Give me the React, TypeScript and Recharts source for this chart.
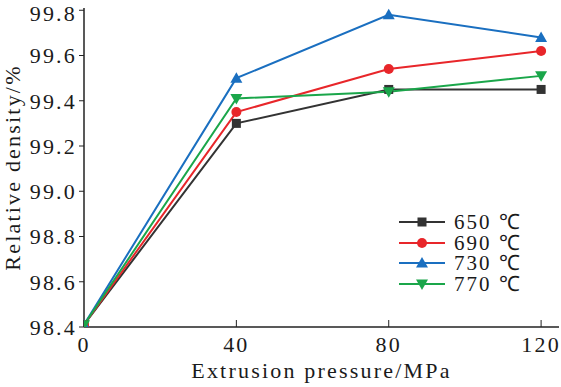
import { LineChart, Line, XAxis, YAxis, Legend } from 'recharts';

const pressures = [0, 40, 80, 120];
const d650 = [98.41, 99.3, 99.45, 99.45];
const d690 = [98.41, 99.35, 99.54, 99.62];
const d730 = [98.41, 99.5, 99.78, 99.68];
const d770 = [98.41, 99.41, 99.44, 99.51];
const xTicks = [0, 40, 80, 120];
const yTicks = [98.4, 98.6, 98.8, 99.0, 99.2, 99.4, 99.6, 99.8];

const SERIES = [
  { key: 't650', name: '650 ℃', values: d650, color: '#333333', shape: 'square' },
  { key: 't690', name: '690 ℃', values: d690, color: '#e8262a', shape: 'circle' },
  { key: 't730', name: '730 ℃', values: d730, color: '#1a6fc0', shape: 'triangle' },
  { key: 't770', name: '770 ℃', values: d770, color: '#1aa64a', shape: 'down' },
];

const data = pressures.map((p, i) => {
  const row: Record<string, number> = { p };
  for (const s of SERIES) row[s.key] = s.values[i];
  return row;
});

const FONT = 'Liberation Serif';
const INK = '#1a1a1a';

function Marker({ cx, cy, fill, shape }: any) {
  if (cx == null || cy == null) return null;
  if (shape === 'square') return <rect x={cx - 4.5} y={cy - 4.5} width={9} height={9} fill={fill} />;
  if (shape === 'circle') return <circle cx={cx} cy={cy} r={5} fill={fill} />;
  if (shape === 'triangle')
    return <polygon points={`${cx},${cy - 6} ${cx - 6},${cy + 4.5} ${cx + 6},${cy + 4.5}`} fill={fill} />;
  return <polygon points={`${cx},${cy + 6} ${cx - 6},${cy - 4.5} ${cx + 6},${cy - 4.5}`} fill={fill} />;
}

function LegendContent() {
  return (
    <div style={{ fontFamily: FONT, fontSize: 21, color: INK, lineHeight: '20px' }}>
      {SERIES.map(s => (
        <div key={s.key} style={{ display: 'flex', alignItems: 'center', height: 20.5 }}>
          <svg width={48} height={20}>
            <line x1={1} y1={10} x2={47} y2={10} stroke={s.color} strokeWidth={2} />
            <Marker cx={24} cy={10} fill={s.color} shape={s.shape} />
          </svg>
          <span style={{ display: 'inline-block', height: 20, lineHeight: '20px', marginLeft: 8, letterSpacing: 2, whiteSpace: 'nowrap' }}>
            {s.name}
          </span>
        </div>
      ))}
    </div>
  );
}

export default function App() {
  const tickStyle = { fontFamily: FONT, fontSize: 22, fill: INK, letterSpacing: 2.2 };
  return (
    <div style={{ position: 'absolute', left: 0, top: 0, width: 561, height: 387, background: '#fff' }}>
      <LineChart width={561} height={387} data={data} margin={{ top: 8, right: 2, bottom: 8, left: 8 }}>
        <XAxis
          dataKey="p"
          type="number"
          domain={[0, 124.7]}
          ticks={xTicks}
          allowDataOverflow
          tick={tickStyle}
          tickSize={-7}
          tickMargin={16}
          height={52}
          axisLine={{ stroke: '#222', strokeWidth: 1.5 }}
          tickLine={{ stroke: '#222' }}
          label={{ value: 'Extrusion pressure/MPa', position: 'insideBottom', offset: 1, style: { fontFamily: FONT, fontSize: 22, fill: INK, letterSpacing: 2.2 } }}
        />
        <XAxis xAxisId="top" orientation="top" type="number" domain={[0, 124.7]} tick={false} tickLine={false} height={0} axisLine={{ stroke: '#444', strokeWidth: 1.5 }} />
        <YAxis
          type="number"
          domain={[98.4, 99.81]}
          ticks={yTicks}
          allowDataOverflow
          tickFormatter={(v: number) => v.toFixed(1)}
          tick={tickStyle}
          tickSize={5}
          tickMargin={2}
          width={76}
          axisLine={{ stroke: '#222', strokeWidth: 1.5 }}
          tickLine={{ stroke: '#222' }}
          label={{ value: 'Relative density/%', angle: -90, position: 'insideLeft', offset: 0, dx: 4, style: { textAnchor: 'middle', fontFamily: FONT, fontSize: 22, fill: INK, letterSpacing: 2.2 } }}
        />
        <YAxis yAxisId="right" orientation="right" type="number" domain={[98.4, 99.81]} tick={false} tickLine={false} width={0} axisLine={{ stroke: '#444', strokeWidth: 1.5 }} />
        <Legend layout="horizontal" align="center" verticalAlign="middle" content={<LegendContent />} wrapperStyle={{ top: 212, left: 398, width: 150 }} />
        {SERIES.map(s => (
          <Line
            key={s.key}
            dataKey={s.key}
            name={s.name}
            type="linear"
            stroke={s.color}
            strokeWidth={2}
            dot={(props: any) => <Marker key={props.index} cx={props.cx} cy={props.cy} fill={s.color} shape={s.shape} />}
            activeDot={false}
            isAnimationActive={false}
          />
        ))}
      </LineChart>
    </div>
  );
}
